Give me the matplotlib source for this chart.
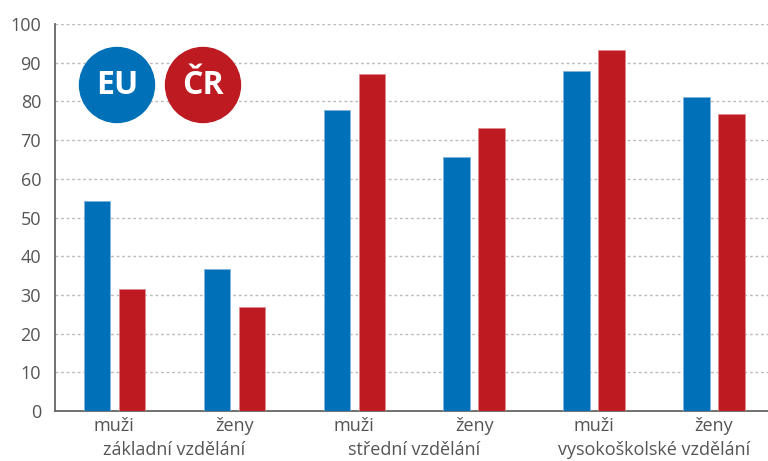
import numpy as np
import matplotlib
matplotlib.use("Agg")
import matplotlib.pyplot as plt
from matplotlib.patches import Ellipse

# data
pohlavi = ["muži", "ženy", "muži", "ženy", "muži", "ženy"]
vzdelani = ["základní vzdělání", "střední vzdělání", "vysokoškolské vzdělání"]
eu = [54.3, 36.7, 77.8, 65.6, 87.8, 81.1]
cr = [31.6, 26.9, 87.0, 73.1, 93.2, 76.7]

BLUE = "#0071b9"
RED = "#bd1a21"
GREY = "#555555"

plt.rcParams['font.family'] = ['Open Sans', 'DejaVu Sans']

fig = plt.figure(figsize=(7.68, 4.61), dpi=100)
ax = fig.add_axes([55 / 768, 1 - 411 / 461, 1 - 55 / 768, (411 - 24) / 461])

x = np.arange(len(pohlavi))
w = 0.22
off = 0.146
ax.bar(x - off, eu, w, color=BLUE, edgecolor="#7fb3dc", linewidth=0.6, zorder=3)
ax.bar(x + off, cr, w, color=RED, edgecolor="#e08a8e", linewidth=0.6, zorder=3)

ax.set_xlim(-0.495, 5.45)
ax.set_ylim(0, 100)
ax.set_yticks(range(0, 101, 10))
ax.yaxis.grid(True, linestyle=(0, (2, 2)), color="#bbbbbb", linewidth=1, zorder=0)
ax.set_axisbelow(True)

ax.set_xticks(x)
ax.set_xticklabels(pohlavi)
ax.tick_params(axis="both", length=0, labelsize=13, colors=GREY)
ax.tick_params(axis="y", pad=10)
ax.tick_params(axis="x", pad=4)
for s in ["top", "right"]:
    ax.spines[s].set_visible(False)
for s in ["left", "bottom"]:
    ax.spines[s].set_color("#666666")
    ax.spines[s].set_linewidth(1.3)

# group labels under pairs of tick labels
for i, lab in enumerate(vzdelani):
    ax.text(2 * i + 0.5, -0.102, lab, transform=ax.get_xaxis_transform(),
            ha="center", va="center", fontsize=13, color=GREY)

# legend circles
r = 37.5
for cx, txt, col in [(117, "EU", BLUE), (203, "ČR", RED)]:
    fig.add_artist(Ellipse((cx / 768, 1 - 85 / 461), 2 * r / 768, 2 * r / 461,
                           transform=fig.transFigure, color=col, zorder=5))
    fig.text(cx / 768, 1 - 86 / 461, txt, ha="center", va="center",
             fontsize=23, fontweight="bold", color="white", zorder=6)

fig.savefig("out.png", dpi=100)
